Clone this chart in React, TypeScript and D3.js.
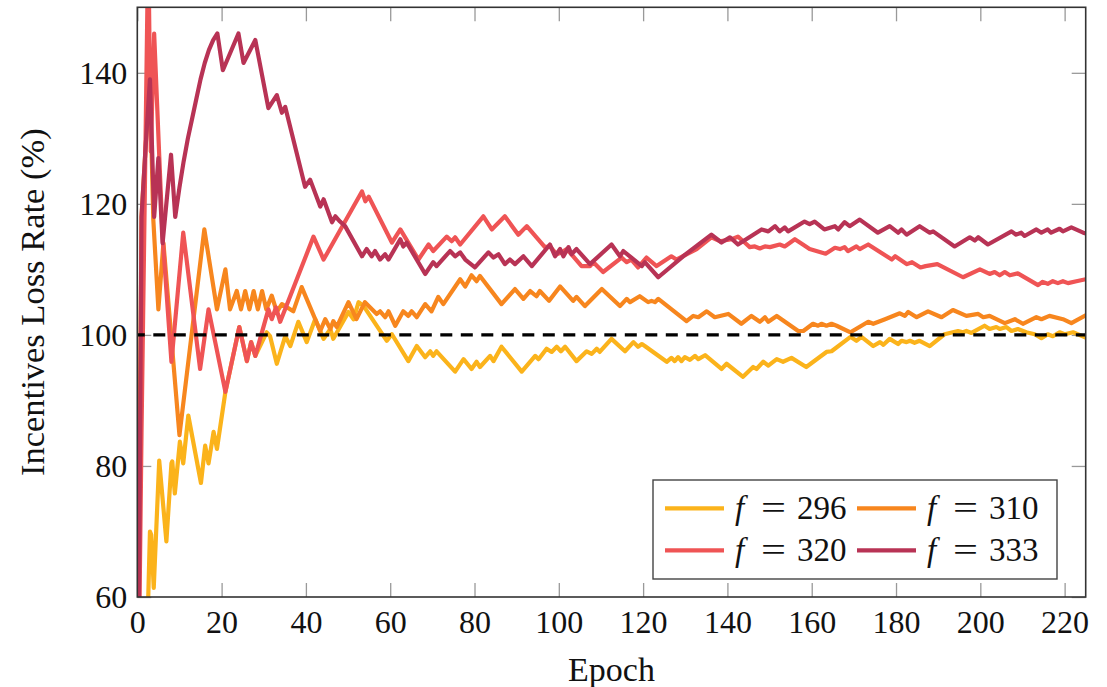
import { useEffect, useRef } from 'react';
import * as d3 from 'd3';

// [epoch, incentives loss rate %], one array per f
const rate296: [number, number][] = [
  [0, 0], [1, 20], [2, 45], [3, 70], [3.3, 69.5], [3.9, 61.4], [5.2, 80.8], [6.9, 68.5], [8.1, 80.4],
  [8.3, 80.7], [8.9, 75.8], [10.1, 83.7], [10.9, 80.4], [12.1, 87.7], [15.1, 77.4], [16.1, 83.1],
  [16.9, 80.4], [18.1, 85.2], [18.9, 82.6], [20.9, 91.3], [24.2, 101.2], [26, 96], [27, 98.9],
  [28, 96.8], [30.7, 100.4], [31.5, 99.8], [33.1, 95.6], [35.1, 99.8], [36.3, 98.3], [38.2, 102],
  [40.2, 98.9], [42.2, 102.4], [44.2, 99.4], [45.8, 100.9], [46.5, 99.4], [50.1, 103.5], [51.3, 102.4],
  [52.5, 105], [53.7, 104.4], [59.2, 99.1], [60.4, 100.1], [64.3, 96], [66.3, 98.3], [68.3, 96.6],
  [69.5, 97.5], [70.2, 96.8], [71, 97.5], [75.4, 94.4], [77.4, 96.3], [79.3, 94.8], [80.5, 95.9],
  [81.3, 95.1], [83.7, 96.8], [84.5, 96], [86.4, 98.2], [91.2, 94.4], [94.4, 96.8], [95.2, 96.3],
  [97.1, 97.9], [98.3, 97.4], [99.5, 98.2], [100.5, 97.5], [101.5, 98.2], [104.2, 96], [106.6, 97.5],
  [107.8, 97.1], [109, 97.9], [109.7, 97.4], [112.5, 99.4], [115.7, 97.5], [117.7, 98.9], [118.8, 98.2],
  [119.7, 98.6], [120.4, 98.3], [125.6, 95.9], [126.7, 96.5], [127.5, 96], [128.3, 96.6], [129.1, 96],
  [129.9, 96.6], [131.1, 96.2], [132.3, 96.8], [133.1, 96.3], [134.7, 96.9], [138.6, 94.8], [139.8, 95.6],
  [143.7, 93.6], [146.1, 95.1], [146.9, 94.8], [148.5, 95.9], [149.7, 95.3], [151.7, 96.3], [153.2, 95.9],
  [155.2, 96.5], [158.7, 95.1], [163.5, 97.4], [164.7, 97.5], [169.2, 99.7], [170.6, 99.1], [171.8, 99.7],
  [174.6, 98.3], [176.2, 98.9], [177, 98.5], [178.5, 99.4], [180.5, 98.6], [181.3, 99.1], [182.5, 98.9],
  [183.3, 99.1], [184.4, 98.8], [185.6, 99.1], [188, 98.3], [191.5, 100.1], [194.7, 100.6], [195.9, 100.4],
  [196.7, 100.6], [197.9, 100.3], [201, 101.4], [202.2, 100.9], [203.8, 101.2], [204.6, 100.9],
  [206.2, 101.2], [207.4, 100.6], [208.9, 100.9], [210.9, 100.4], [212.9, 100.1], [214.5, 99.5],
  [216, 100.1], [217.2, 99.8], [218.8, 100.4], [220, 100.1], [222, 100.4], [225, 99.6],
];

const rate310: [number, number][] = [
  [0, 40], [1, 118], [2, 129], [3, 138], [3.8, 117.6], [5, 103.9], [6.2, 114], [10, 84.7], [15.9, 116.1],
  [18.9, 103.9], [20.9, 110], [22, 103.9], [23.6, 106.7], [24.6, 103.9], [25.6, 106.7], [26.6, 103.9],
  [27.6, 106.7], [28.6, 103.9], [29.6, 106.7], [30.6, 103.9], [31.9, 106], [33.1, 103.5], [34.3, 104.7],
  [37, 103.6], [39, 107.3], [43.4, 100.6], [44.6, 102.4], [45.8, 100.9], [46.5, 102.1], [47.3, 101.2],
  [50.1, 105], [52, 102.4], [54, 105], [56.8, 103.2], [57.6, 103.6], [58.8, 102.7], [59.6, 103.6],
  [61.2, 101.4], [63.1, 103.6], [64.3, 102.9], [65.1, 103.6], [66.3, 102.7], [68.3, 104.7], [69.8, 103.6],
  [71.4, 105.8], [72.6, 104.7], [76.6, 108.5], [77.8, 107.4], [79.3, 109.1], [80.5, 108.2], [81.3, 109],
  [86.4, 104.7], [89.6, 107], [91.6, 105.5], [93.2, 106.7], [94.7, 105.9], [95.5, 106.7], [97.7, 105.2],
  [100.3, 107.4], [103.4, 105.2], [104.2, 105.8], [106.2, 104.4], [110.2, 107], [114.5, 104.4],
  [116.1, 105.5], [116.9, 105], [119.2, 105.9], [121.2, 105], [122, 105.2], [122.8, 105], [123.6, 105.5],
  [130.3, 102.1], [131.9, 102.9], [133.1, 102.7], [135.1, 103.6], [137, 102.7], [140.2, 103.2],
  [143.3, 101.7], [145.7, 102.9], [147.7, 102], [148.9, 102.7], [149.7, 102], [151.7, 102.9],
  [156.8, 100.6], [158, 100.6], [160.3, 101.7], [161.5, 101.4], [162.3, 101.7], [163.5, 101.4],
  [164.7, 101.7], [165.9, 101.4], [169.2, 100.4], [171.8, 101.4], [173.4, 102], [174.6, 101.7],
  [177.4, 102.4], [180.9, 103.3], [182.1, 102.9], [182.9, 103.5], [184.9, 102.7], [187.6, 103.6],
  [190.8, 102.7], [193.5, 103.8], [196.7, 102.9], [199.5, 103.2], [200.7, 102.7], [202.2, 102.9],
  [205.8, 101.8], [208.2, 102.4], [210.1, 101.7], [213.3, 102.7], [214.5, 102.4], [216.4, 102.9],
  [219.6, 102.4], [221.6, 101.8], [225, 103],
];

const rate320: [number, number][] = [
  [0, 30], [1, 85], [2.6, 160], [3.2, 128], [4, 146], [6, 115], [8.1, 95.9], [10.9, 115.6], [14.9, 94.8],
  [16.9, 103.9], [20.9, 91.3], [24.2, 101.2], [26, 96], [27, 98.9], [28, 96.8], [31.1, 103.9], [31.9, 102.4],
  [32.9, 104.2], [33.9, 102], [41.8, 115], [44.2, 111.5], [53.3, 121.9], [54.1, 120.4], [54.9, 121.1],
  [60.4, 114.1], [62.4, 116.1], [66.7, 111.5], [69.1, 113.8], [70.2, 112.8], [73.4, 115], [74.6, 114.3],
  [75.4, 114.9], [76.6, 113.8], [82.1, 118.1], [84.1, 116.1], [87.2, 118.1], [90.4, 115.3], [92.4, 116.6],
  [96.7, 113.4], [97.9, 113.5], [99.5, 112.3], [100.7, 112.6], [101.9, 113.1], [103, 112.3], [105.4, 110.5],
  [107.4, 110.5], [108.2, 111.1], [110.5, 109.6], [114.9, 111.8], [116.1, 111.1], [117.2, 111.5],
  [118.8, 110.3], [120.8, 111.8], [123.2, 110.5], [126.7, 112], [127.9, 111.5], [132.7, 113.1],
  [136.2, 114.9], [138.2, 114.3], [141, 114.6], [142.5, 115], [144.1, 114.1], [145.3, 113.4],
  [146.5, 113.5], [147.7, 113.2], [148.9, 113.5], [150.1, 113.4], [152.4, 113.8], [153.6, 113.5],
  [156, 114.6], [157.9, 113.8], [159.5, 113.1], [163.3, 112.4], [165.5, 113.3], [166.7, 113.1],
  [167.8, 113.4], [168.6, 112.8], [170.6, 113.5], [171.4, 113.1], [173.4, 113.8], [179, 111.5], [179.8, 112],
  [182.6, 110.8], [183.8, 111.1], [185.8, 110.3], [187, 110.5], [189.8, 110.8], [195.9, 108.8], [199.9, 110],
  [202.2, 109.3], [203.4, 109.6], [204.6, 109.1], [205.8, 109.6], [207, 109.1], [208.9, 109.4],
  [213.7, 107.6], [214.8, 108.1], [216, 107.8], [217.2, 108.2], [218.4, 107.9], [219.6, 108.2],
  [220.8, 107.9], [222.8, 108.2], [225, 108.5],
];

const rate333: [number, number][] = [
  [0, 20], [1, 118], [2, 129], [3, 139], [4, 118], [5, 127], [6, 114], [8, 127.5], [9, 118], [10, 122.5],
  [11, 126.5], [12, 130], [13, 133], [14, 136], [15, 139], [16, 141.5], [17, 143.5], [18, 145], [19, 146],
  [20.3, 140.4], [24, 146], [25.2, 141.5], [28, 145], [31.1, 134.6], [33.1, 136.6], [34.3, 133.9],
  [35.1, 134.8], [39.8, 122.6], [41, 123.7], [43.4, 119.6], [44.2, 120.7], [46.2, 117.2], [47, 118.1],
  [48.1, 117.3], [49.3, 116.6], [53.3, 112], [54.4, 113.1], [55.6, 112], [56.4, 112.8], [57.6, 111.5],
  [58.8, 112.3], [59.6, 111.5], [62.4, 114.6], [63.1, 113.5], [63.9, 114.1], [68.3, 109.3], [70.2, 111.1],
  [71, 110.5], [74.2, 112.8], [75.4, 112], [76.6, 112.6], [77.8, 111.5], [80.1, 110.3], [83.3, 112.6],
  [84.5, 111.8], [85.7, 112.3], [87.2, 110.8], [88.4, 111.5], [89.6, 110.8], [91.6, 112], [93.6, 110.5],
  [97.9, 113.8], [99.1, 112], [100.3, 113.1], [101.1, 112], [102.3, 113.4], [103, 112.3], [104.2, 113.1],
  [107.4, 110.8], [112.5, 113.8], [114.5, 112], [115.3, 112.8], [119.7, 110.5], [120.4, 111.1],
  [123.6, 108.8], [129.5, 112], [136.2, 115.3], [138.6, 114.1], [140.6, 114.9], [142.5, 113.8],
  [148.1, 116.1], [149.7, 115.8], [151.3, 116.6], [152.4, 115.8], [153.6, 116.4], [154.4, 115.8],
  [158.3, 117.3], [159.5, 116.9], [160.7, 117.3], [163, 116.1], [165.5, 116.6], [166.3, 116.1],
  [167.8, 117.2], [169, 116.6], [171.4, 117.6], [175.7, 115.6], [178.5, 116.6], [180.5, 115.6],
  [181.3, 116.1], [182.5, 115.3], [185.6, 116.6], [188, 115.6], [188.8, 115.8], [193.9, 113.5],
  [197.5, 114.9], [198.7, 114.4], [199.5, 114.9], [201.8, 113.8], [207.4, 115.8], [208.5, 115.3],
  [209.7, 115.6], [210.5, 115.1], [213.3, 116.1], [214.5, 115.6], [216, 116.1], [216.8, 115.6],
  [218.8, 116.2], [219.6, 115.8], [221.6, 116.4], [224.4, 115.6], [225, 115.5],
];

const fValues = ['296', '310', '320', '333'];
const seriesColors = ['#fbb31b', '#f7861e', '#ef5455', '#b83355'];
const xTicks = [0, 20, 40, 60, 80, 100, 120, 140, 160, 180, 200, 220];
const yTicks = [60, 80, 100, 120, 140];

const W = 1107;
const H = 687;
const FONT = '"Liberation Serif", "Times New Roman", serif';

export default function App() {
  const svgRef = useRef<SVGSVGElement>(null);

  useEffect(() => {
    if (!svgRef.current) return;
    const svg = d3.select(svgRef.current);
    svg.selectAll('*').remove();

    const x = d3.scaleLinear().domain([0, 225]).range([137.3, 1085.7]);
    const y = d3.scaleLinear().domain([60, 150]).range([597, 7.3]);
    const [x0, x1] = x.range();
    const [y0, y1] = y.range();

    svg.append('defs').append('clipPath').attr('id', 'plot-clip')
      .append('rect')
      .attr('x', x0).attr('y', y1)
      .attr('width', x1 - x0).attr('height', y0 - y1);

    const styleTicks = (g: d3.Selection<SVGGElement, unknown, null, undefined>) => {
      g.select('.domain').remove();
      g.selectAll('.tick line').attr('stroke', '#999').attr('stroke-width', 1.3);
      g.selectAll('.tick text').attr('fill', '#111').style('font-family', FONT).style('font-size', '32px');
    };

    svg.append('g').attr('transform', `translate(0,${y0})`)
      .call(d3.axisBottom(x).tickValues(xTicks).tickSize(-14).tickPadding(13).tickFormat(d3.format('d')))
      .call(styleTicks);
    svg.append('g').attr('transform', `translate(0,${y1})`)
      .call(d3.axisTop(x).tickValues(xTicks).tickSize(-14).tickFormat(() => ''))
      .call(styleTicks);
    svg.append('g').attr('transform', `translate(${x0},0)`)
      .call(d3.axisLeft(y).tickValues(yTicks).tickSize(-14).tickPadding(10).tickFormat(d3.format('d')))
      .call(styleTicks);
    svg.append('g').attr('transform', `translate(${x1},0)`)
      .call(d3.axisRight(y).tickValues(yTicks).tickSize(-14).tickFormat(() => ''))
      .call(styleTicks);

    const line = d3.line<[number, number]>().x(d => x(d[0])).y(d => y(d[1]));
    const all = [rate296, rate310, rate320, rate333];

    const plot = svg.append('g').attr('clip-path', 'url(#plot-clip)');
    all.forEach((s, i) => {
      plot.append('path')
        .attr('d', line(s))
        .attr('fill', 'none')
        .attr('stroke', seriesColors[i])
        .attr('stroke-width', 4.2)
        .attr('stroke-linejoin', 'round')
        .attr('stroke-linecap', 'round');
    });

    // 100 % reference
    plot.append('line')
      .attr('x1', x(0)).attr('x2', x(225))
      .attr('y1', y(100)).attr('y2', y(100))
      .attr('stroke', '#000')
      .attr('stroke-width', 3.3)
      .attr('stroke-dasharray', '12 8.5')
      .attr('stroke-dashoffset', 4.5);

    svg.append('rect')
      .attr('x', x0).attr('y', y1)
      .attr('width', x1 - x0).attr('height', y0 - y1)
      .attr('fill', 'none').attr('stroke', '#333').attr('stroke-width', 1.6);

    // legend
    const lg = svg.append('g');
    lg.append('rect')
      .attr('x', 653).attr('y', 480).attr('width', 404).attr('height', 99)
      .attr('fill', '#fff').attr('stroke', '#444').attr('stroke-width', 1.4);
    fValues.forEach((f, i) => {
      const col = i % 2;
      const row = Math.floor(i / 2);
      const lx = 665 + col * 192;
      const ly = 508.3 + row * 42;
      lg.append('line')
        .attr('x1', lx).attr('x2', lx + 59).attr('y1', ly).attr('y2', ly)
        .attr('stroke', seriesColors[i]).attr('stroke-width', 4.2);
      const t = lg.append('g')
        .style('font-family', FONT).style('font-size', '33px').attr('fill', '#111');
      const base = ly + 10.5;
      t.append('text').attr('x', lx + 70).attr('y', base).style('font-style', 'italic').text('f');
      t.append('text').attr('x', lx + 96).attr('y', base)
        .attr('textLength', 25).attr('lengthAdjust', 'spacingAndGlyphs').text('=');
      t.append('text').attr('x', lx + 132).attr('y', base).text(f);
    });

    svg.append('text')
      .attr('x', (x0 + x1) / 2).attr('y', 681)
      .attr('text-anchor', 'middle')
      .style('font-family', FONT).style('font-size', '34px').attr('fill', '#111')
      .text('Epoch');

    svg.append('text')
      .attr('transform', `translate(44,${(y0 + y1) / 2}) rotate(-90)`)
      .attr('text-anchor', 'middle')
      .style('font-family', FONT).style('font-size', '34.5px').attr('fill', '#111')
      .text('Incentives Loss Rate (%)');
  }, []);

  return (
    <svg
      ref={svgRef}
      width={W}
      height={H}
      style={{ position: 'absolute', left: 0, top: 0, background: '#fff', display: 'block' }}
    />
  );
}
